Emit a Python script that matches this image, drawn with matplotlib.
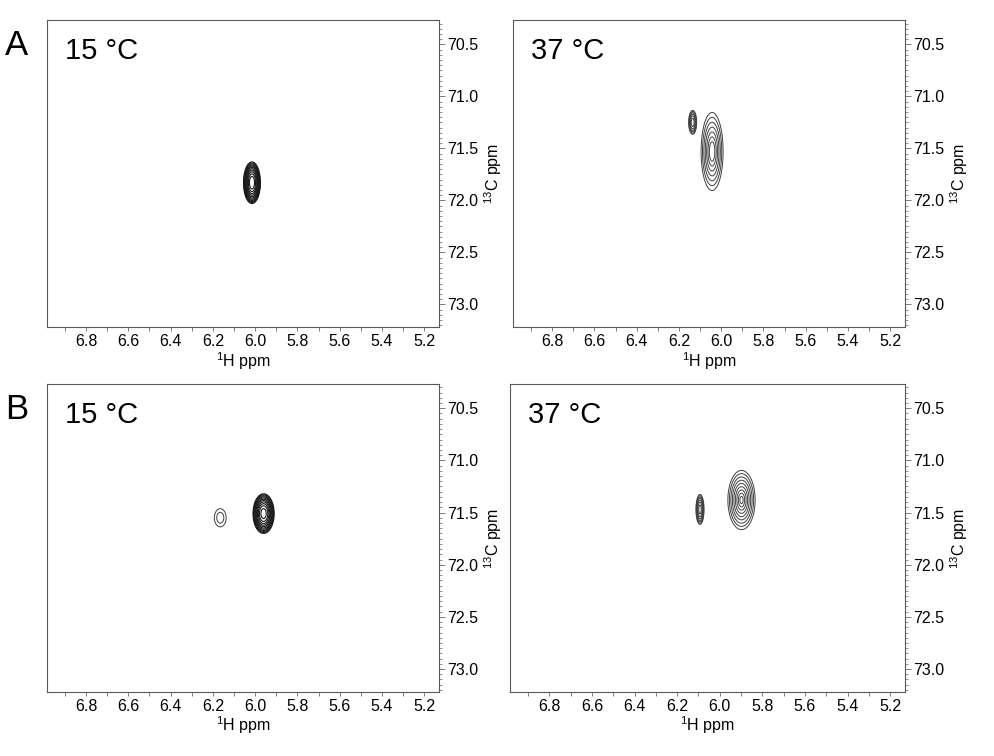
import numpy as np
import matplotlib
matplotlib.use("Agg")
import matplotlib.pyplot as plt
from matplotlib.ticker import MultipleLocator, FormatStrFormatter

plt.rcParams['font.family'] = ['Liberation Sans', 'DejaVu Sans']
plt.rcParams['mathtext.fontset'] = 'custom'
plt.rcParams['mathtext.rm'] = 'Liberation Sans'

# panel labels and temperatures
rows = ['A', 'B']
temps = ['15 °C', '37 °C']

# peaks per panel: 1H centre, 13C centre, outer half-widths (ppm),
# number of contours, innermost contour fraction, falloff exponent
peaks = {
    ('A', 0): {'h': [6.015], 'c': [71.83], 'wh': [0.040], 'wc': [0.20],
               'n': [11], 'f': [0.30], 'p': [2]},
    ('A', 1): {'h': [6.135, 6.043], 'c': [71.25, 71.53], 'wh': [0.019, 0.052], 'wc': [0.115, 0.375],
               'n': [6, 7], 'f': [0.35, 0.25], 'p': [2, 1]},
    ('B', 0): {'h': [6.165, 5.96], 'c': [71.55, 71.51], 'wh': [0.028, 0.050], 'wc': [0.087, 0.19],
               'n': [2, 11], 'f': [0.6, 0.25], 'p': [2, 2]},
    ('B', 1): {'h': [6.093, 5.898], 'c': [71.47, 71.38], 'wh': [0.019, 0.064], 'wc': [0.144, 0.284],
               'n': [7, 9], 'f': [0.3, 0.12], 'p': [2, 1]},
}

xlim = (6.985, 5.13)
ylim = (73.22, 70.27)

fig = plt.figure(figsize=(9.95, 7.56), dpi=100)
boxes = {
    ('A', 0): [0.0472, 0.567, 0.394, 0.406],
    ('A', 1): [0.5156, 0.567, 0.394, 0.406],
    ('B', 0): [0.0472, 0.0847, 0.394, 0.407],
    ('B', 1): [0.5126, 0.0847, 0.397, 0.407],
}

hgrid = np.linspace(5.1, 7.0, 900)
cgrid = np.linspace(70.2, 73.3, 900)
H, C = np.meshgrid(hgrid, cgrid)

for (row, col), box in boxes.items():
    ax = fig.add_axes(box)
    p = peaks[(row, col)]
    for h, c, wh, wc, n, f, e in zip(p['h'], p['c'], p['wh'], p['wc'], p['n'], p['f'], p['p']):
        rho = np.sqrt(((H - h) / wh) ** 2 + ((C - c) / wc) ** 2)
        F = rho ** e
        levels = np.linspace(f ** e, 1.0, n)
        dense = e == 2 and n > 8
        ax.contour(H, C, F, levels=levels, colors='0.1' if dense else '0.25',
                   linewidths=0.8 if dense else 0.7)

    ax.set_xlim(xlim)
    ax.set_ylim(ylim)
    ax.xaxis.set_major_locator(MultipleLocator(0.2))
    ax.xaxis.set_minor_locator(MultipleLocator(0.1))
    ax.xaxis.set_major_formatter(FormatStrFormatter('%.1f'))
    ax.yaxis.set_major_locator(MultipleLocator(0.5))
    ax.yaxis.set_minor_locator(MultipleLocator(0.05))
    ax.yaxis.set_major_formatter(FormatStrFormatter('%.1f'))
    ax.yaxis.tick_right()
    ax.yaxis.set_label_position('right')
    ax.tick_params(axis='both', which='major', labelsize=11.5, direction='out',
                   length=3, width=0.6, color='0.4', pad=2)
    ax.tick_params(axis='x', which='minor', direction='out', length=3, width=0.6, color='0.4')
    ax.tick_params(axis='y', which='minor', direction='out', length=2, width=0.5, color='0.4')
    ax.tick_params(axis='y', which='major', length=4)
    for s in ax.spines.values():
        s.set_color('0.35')
        s.set_linewidth(0.8)
    ax.set_xlabel('$^{1}$H ppm', fontsize=11.5, labelpad=0.5)
    ax.set_ylabel('$^{13}$C ppm', fontsize=11.5, labelpad=3)
    ax.text(0.045, 0.945, temps[col], transform=ax.transAxes, fontsize=21,
            ha='left', va='top')
    if col == 0:
        fig.text(0.005, box[1] + box[3] - 0.012, row, fontsize=25, ha='left', va='top')

fig.savefig('out.png', dpi=100)
